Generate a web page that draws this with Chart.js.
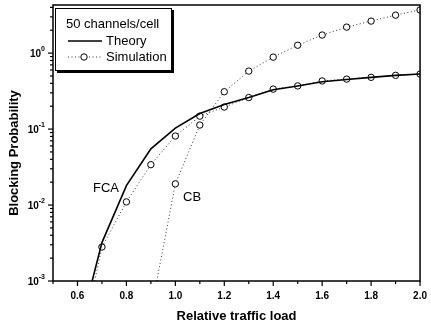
<!DOCTYPE html>
<html>
<head>
<meta charset="utf-8">
<script src="https://cdn.jsdelivr.net/npm/chart.js@4/dist/chart.umd.min.js"></script>
<style>
  html, body { margin: 0; padding: 0; background: #fff; }
  #wrap { width: 431px; height: 325px; }
</style>
</head>
<body>
<div id="wrap"><canvas id="chart" width="431" height="325"></canvas></div>
<script>
// x values (relative traffic load)
const loadTheory = [0.66, 0.7, 0.8, 0.9, 1.0, 1.1, 1.2, 1.3, 1.4, 1.5, 1.6, 1.7, 1.8, 1.9, 2.0];
const loadFcaSim = [0.67, 0.7, 0.8, 0.9, 1.0, 1.1, 1.2, 1.3, 1.4, 1.5, 1.6, 1.7, 1.8, 1.9, 2.0];
const loadCbSim = [0.924, 1.0, 1.1, 1.2, 1.3, 1.4, 1.5, 1.6, 1.7, 1.8, 1.9, 2.0];

// blocking probability
const fcaTheory = [0.001, 0.0032, 0.018, 0.055, 0.103, 0.16, 0.21, 0.26, 0.33, 0.37, 0.42, 0.45, 0.48, 0.51, 0.53];
const fcaSim = [0.001, 0.0028, 0.011, 0.034, 0.081, 0.148, 0.195, 0.26, 0.336, 0.37, 0.43, 0.455, 0.48, 0.51, 0.53];
const cbSim = [0.001, 0.019, 0.113, 0.31, 0.58, 0.885, 1.27, 1.73, 2.2, 2.64, 3.16, 3.7];

// axis ticks
const xTicks = [0.5, 0.6, 0.7, 0.8, 0.9, 1.0, 1.1, 1.2, 1.3, 1.4, 1.5, 1.6, 1.7, 1.8, 1.9, 2.0];
const xTickLabels = ["", "0.6", "", "0.8", "", "1.0", "", "1.2", "", "1.4", "", "1.6", "", "1.8", "", "2.0"];
const yDecades = [-3, -2, -1, 0];

const X_MIN = 0.5, X_MAX = 2.0, Y_MIN = 0.001, Y_MAX = 4.3;

function toPoints(xs, ys) {
  return xs.map((x, i) => ({ x: x, y: ys[i] }));
}

// no marker on the first point (where the dotted line leaves the axis)
function simRadius(ctx) {
  return ctx.dataIndex === 0 ? 0 : 3.2;
}

const FONT = "'Liberation Sans', Arial, sans-serif";

const overlay = {
  id: "overlay",
  afterDatasetsDraw(chart) {
    const c = chart.ctx;
    const a = chart.chartArea;
    const xs = chart.scales.x;
    const ys = chart.scales.y;
    c.save();

    // frame
    c.strokeStyle = "#000";
    c.lineWidth = 1.5;
    c.strokeRect(a.left, a.top, a.right - a.left, a.bottom - a.top);

    // x tick marks
    c.lineWidth = 1.2;
    xTicks.forEach((v, i) => {
      const px = xs.getPixelForValue(v);
      const len = xTickLabels[i] ? 5 : 3;
      c.beginPath();
      c.moveTo(px, a.bottom);
      c.lineTo(px, a.bottom + len);
      c.stroke();
    });

    // y tick marks + labels
    c.fillStyle = "#000";
    yDecades.forEach((n) => {
      for (let k = 1; k <= 9; k++) {
        const v = k * Math.pow(10, n);
        if (v > Y_MAX) break;
        const py = ys.getPixelForValue(v);
        c.beginPath();
        c.moveTo(a.left, py);
        c.lineTo(a.left - (k === 1 ? 5 : 3), py);
        c.stroke();
      }
      const py = ys.getPixelForValue(Math.pow(10, n));
      const sup = n === 0 ? "0" : "-" + Math.abs(n);
      c.font = "bold 7px " + FONT;
      c.textAlign = "right";
      c.textBaseline = "middle";
      const supW = c.measureText(sup).width;
      c.fillText(sup, a.left - 8, py - 4);
      c.font = "bold 10px " + FONT;
      c.fillText("10", a.left - 8 - supW, py + 1);
    });

    // axis titles
    c.font = "bold 13px " + FONT;
    c.textAlign = "center";
    c.textBaseline = "middle";
    c.fillText("Relative traffic load", (a.left + a.right) / 2, 316);
    c.save();
    c.translate(14, 153);
    c.rotate(-Math.PI / 2);
    c.fillText("Blocking Probability", 0, 0);
    c.restore();

    // curve labels
    c.font = "13px " + FONT;
    c.textAlign = "left";
    c.fillText("FCA", 93, 188);
    c.fillText("CB", 183, 197);

    // legend box
    c.fillStyle = "#000";
    c.fillRect(57, 10, 117, 63);
    c.fillStyle = "#fff";
    c.fillRect(55, 8, 116, 62);
    c.lineWidth = 1;
    c.strokeRect(55.5, 8.5, 116, 62);
    c.fillStyle = "#000";
    c.font = "13px " + FONT;
    c.textBaseline = "middle";
    c.fillText("50 channels/cell", 66, 24);
    c.fillText("Theory", 106, 41);
    c.fillText("Simulation", 106, 57);
    c.lineWidth = 1.6;
    c.beginPath();
    c.moveTo(68, 41);
    c.lineTo(102, 41);
    c.stroke();
    c.lineWidth = 1;
    c.strokeStyle = "#333";
    c.setLineDash([1, 2.5]);
    c.beginPath();
    c.moveTo(68, 57);
    c.lineTo(102, 57);
    c.stroke();
    c.setLineDash([]);
    c.strokeStyle = "#000";
    c.beginPath();
    c.arc(84, 57, 3.2, 0, Math.PI * 2);
    c.fillStyle = "#fff";
    c.fill();
    c.stroke();

    c.restore();
  },
};

new Chart(document.getElementById("chart"), {
  type: "scatter",
  data: {
    datasets: [
      {
        label: "FCA theory",
        data: toPoints(loadTheory, fcaTheory),
        showLine: true,
        borderColor: "#000",
        borderWidth: 1.6,
        pointRadius: 0,
        tension: 0,
        clip: 0,
      },
      {
        label: "FCA simulation",
        data: toPoints(loadFcaSim, fcaSim),
        showLine: true,
        borderColor: "#333",
        borderWidth: 1,
        borderDash: [1, 2.5],
        pointRadius: simRadius,
        pointBackgroundColor: "#fff",
        pointBorderColor: "#000",
        pointBorderWidth: 1,
        tension: 0,
        clip: 0,
      },
      {
        label: "CB simulation",
        data: toPoints(loadCbSim, cbSim),
        showLine: true,
        borderColor: "#333",
        borderWidth: 1,
        borderDash: [1, 2.5],
        pointRadius: simRadius,
        pointBackgroundColor: "#fff",
        pointBorderColor: "#000",
        pointBorderWidth: 1,
        tension: 0,
        clip: 0,
      },
    ],
  },
  options: {
    responsive: false,
    animation: false,
    events: [],
    layout: { padding: { top: 5, right: 3, left: 0, bottom: 0 } },
    plugins: {
      legend: { display: false },
      tooltip: { enabled: false },
    },
    scales: {
      x: {
        type: "linear",
        min: X_MIN,
        max: X_MAX,
        grid: { display: false, tickLength: 5 },
        border: { display: false },
        afterBuildTicks: (scale) => {
          scale.ticks = xTicks.map((v) => ({ value: v }));
        },
        afterFit: (scale) => {
          scale.height = 44;
        },
        ticks: {
          autoSkip: false,
          maxRotation: 0,
          padding: 4,
          color: "#000",
          font: { family: FONT, size: 10, weight: "bold" },
          callback: (value, index) => xTickLabels[index],
        },
      },
      y: {
        type: "logarithmic",
        min: Y_MIN,
        max: Y_MAX,
        grid: { display: false },
        border: { display: false },
        ticks: { display: false },
        afterFit: (scale) => {
          scale.width = 53;
        },
      },
    },
  },
  plugins: [overlay],
});
</script>
</body>
</html>
